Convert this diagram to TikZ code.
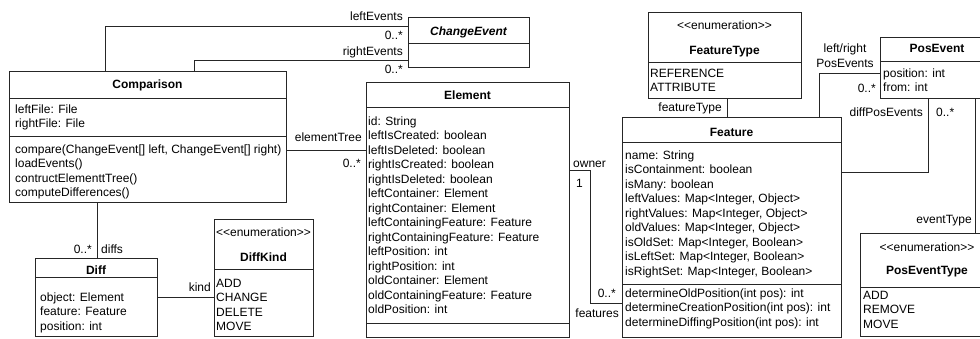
\documentclass[tikz,border=0pt]{standalone}
\usepackage{fontspec}
\setmainfont{Liberation Sans}
\usetikzlibrary{calc}
\newcommand\divline[2]{\draw[boxline] ([yshift=-#2]#1.north west) -- ([yshift=-#2]#1.north east);}
\newcommand\enumstereo{<\kern0pt<enumeration>\kern0pt>}
\begin{document}
\begin{tikzpicture}[x=1pt,y=-1pt,
  boxline/.style={line width=0.8pt,draw=black!85},
  box/.style={boxline,rectangle,inner sep=0pt,anchor=north west},
  txt/.style={anchor=base west,inner sep=0pt,font=\fontsize{12pt}{14.5pt}\selectfont},
  rtxt/.style={anchor=base east,inner sep=0pt,font=\fontsize{12pt}{14.5pt}\selectfont},
  ctxt/.style={anchor=base,inner sep=0pt,font=\fontsize{12pt}{14.5pt}\selectfont},
  ttl/.style={anchor=base,inner sep=0pt,font=\fontsize{12pt}{14.5pt}\selectfont\bfseries},
  conn/.style={line width=0.8pt,draw=black!85}]
\useasboundingbox (0,0) rectangle (980,338);
\clip (0,0) rectangle (980,338);

% ---------- Comparison
\node[box,minimum width=277pt,minimum height=131pt] (cmp) at (9,71) {};
\divline{cmp}{27pt}\divline{cmp}{65pt}
\node[ttl] (cmpt) at (147.5,88) {Comparison};
\foreach \t [count=\i from 0] in {leftFile: File, rightFile: File}
  \node[txt] (cmpa\i) at (15,113+14.5*\i) {\t};
\foreach \t [count=\i from 0] in {{compare(ChangeEvent[] left, ChangeEvent[] right)},loadEvents(),contructElementtTree(),computeDifferences()}
  \node[txt] (cmpm\i) at (15,153+14.6*\i) {\t};

% ---------- ChangeEvent
\node[box,minimum width=121pt,minimum height=50pt] (chg) at (408,17) {};
\divline{chg}{26pt}
\node[ttl,font=\fontsize{12pt}{14.5pt}\selectfont\bfseries\itshape] (chgt) at (468.5,35) {ChangeEvent};

% ---------- Element
\node[box,minimum width=203pt,minimum height=254.5pt] (elm) at (366,82) {};
\divline{elm}{25pt}\divline{elm}{241pt}
\node[ttl] (elmt) at (467.5,99) {Element};
\foreach \t [count=\i from 0] in {id: String,leftIsCreated: boolean,leftIsDeleted: boolean,rightIsCreated: boolean,rightIsDeleted: boolean,leftContainer: Element,rightContainer: Element,leftContainingFeature: Feature,rightContainingFeature: Feature,leftPosition: int,rightPosition: int,oldContainer: Element,oldContainingFeature: Feature,oldPosition: int}
  \node[txt] (elma\i) at (368,125+14.5*\i) {\t};

% ---------- Feature
\node[box,minimum width=219pt,minimum height=219.5pt] (fea) at (622,117) {};
\divline{fea}{25pt}\divline{fea}{167pt}
\node[ttl] (feat) at (731.5,136) {Feature};
\foreach \t [count=\i from 0] in {name: String,isContainment: boolean,isMany: boolean,{leftValues: Map<Integer, Object>},{rightValues: Map<Integer, Object>},{oldValues: Map<Integer, Object>},{isOldSet: Map<Integer, Boolean>},{isLeftSet: Map<Integer, Boolean>},{isRightSet: Map<Integer, Boolean>}}
  \node[txt] (feaa\i) at (625,159+14.5*\i) {\t};
\foreach \t [count=\i from 0] in {determineOldPosition(int pos): int,determineCreationPosition(int pos): int,determineDiffingPosition(int pos): int}
  \node[txt] (feam\i) at (625,297+14.5*\i) {\t};

% ---------- FeatureType
\node[box,minimum width=153pt,minimum height=86pt] (fty) at (648,12) {};
\divline{fty}{50pt}
\node[ctxt] (ftys) at (724.5,29) {\enumstereo};
\node[ttl] (ftyt) at (724.5,54) {FeatureType};
\foreach \t [count=\i from 0] in {REFERENCE,ATTRIBUTE}
  \node[txt] (ftya\i) at (650,77+14.5*\i) {\t};

% ---------- Diff
\node[box,minimum width=122pt,minimum height=78pt] (dif) at (35,258) {};
\divline{dif}{19pt}
\node[ttl] (dift) at (96,274) {Diff};
\foreach \t [count=\i from 0] in {object: Element,feature: Feature,position: int}
  \node[txt] (difa\i) at (40,301+14.5*\i) {\t};

% ---------- DiffKind
\node[box,minimum width=99pt,minimum height=117pt] (dk) at (214,219) {};
\divline{dk}{50pt}
\node[ctxt] (dks) at (263.5,236) {\enumstereo};
\node[ttl] (dkt) at (263.5,261) {DiffKind};
\foreach \t [count=\i from 0] in {ADD,CHANGE,DELETE,MOVE}
  \node[txt] (dka\i) at (216,287+14.5*\i) {\t};

% ---------- PosEvent
\node[box,minimum width=114pt,minimum height=61pt] (pe) at (880,37) {};
\divline{pe}{24pt}
\node[ttl] (pet) at (937,52) {PosEvent};
\foreach \t [count=\i from 0] in {position: int,from: int}
  \node[txt] (pea\i) at (883,77+14.5*\i) {\t};

% ---------- PosEventType
\node[box,minimum width=134pt,minimum height=103pt] (pty) at (860,233) {};
\divline{pty}{54pt}
\node[ctxt] (ptys) at (927,251) {\enumstereo};
\node[ttl] (ptyt) at (927,274) {PosEventType};
\foreach \t [count=\i from 0] in {ADD,REMOVE,MOVE}
  \node[txt] (ptya\i) at (863,299+14.5*\i) {\t};

% ---------- connectors
% leftEvents / rightEvents
\coordinate (le1) at ([xshift=96pt]cmp.north west);
\coordinate (le2) at ([yshift=-9pt]chg.north west);
\draw[conn] (le1) |- (le2);
\node[rtxt] (lelab) at (403,20) {leftEvents};
\node[rtxt] (lemul) at (403,39) {0..*};
\coordinate (re1) at ([xshift=185pt]cmp.north west);
\coordinate (re2) at ([yshift=-43pt]chg.north west);
\draw[conn] (re1) |- (re2);
\node[rtxt] (relab) at (403,55) {rightEvents};
\node[rtxt] (remul) at (403,73) {0..*};

% elementTree
\coordinate (et) at ([yshift=-79pt]cmp.north east);
\draw[conn] (et) -- (et -| elm.west);
\node[rtxt] (etlab) at (362,141) {elementTree};
\node[rtxt] (etmul) at (361,167) {0..*};

% diffs
\coordinate (df) at ([xshift=88pt]cmp.south west);
\draw[conn] (df) -- (df |- dif.north);
\node[rtxt] (dfmul) at (92,253) {0..*};
\node[txt] (dflab) at (101,253) {diffs};

% kind
\coordinate (kd) at ([yshift=-39pt]dif.north east);
\draw[conn] (kd) -- (kd -| dk.west);
\node[rtxt] (kdlab) at (211,291) {kind};

% owner / features
\coordinate (ow) at ([yshift=-88pt]elm.north east);
\coordinate (fe) at ([yshift=-186pt]fea.north west);
\draw[conn] (ow) -- ++(21,0) |- (fe);
\node[txt] (owlab) at (573,167) {owner};
\node[txt] (owmul) at (576,187) {1};
\node[rtxt] (femul) at (616,297) {0..*};
\node[rtxt] (felab) at (619,317) {features};

% featureType
\coordinate (ft) at ([xshift=79pt]fty.south west);
\draw[conn] (ft) -- (ft |- fea.north);
\node[rtxt] (ftlab) at (722,111) {featureType};

% left/right PosEvents
\coordinate (lr) at ([xshift=197pt]fea.north west);
\coordinate (pl) at ([yshift=-36pt]pe.north west);
\draw[conn] (lr) |- (pl);
\node[ctxt] (lrlab1) at (845,52) {left/right};
\node[ctxt] (lrlab2) at (845,67) {PosEvents};
\node[rtxt] (lrmul) at (876,92) {0..*};

% diffPosEvents
\coordinate (dp) at ([yshift=-55pt]fea.north east);
\coordinate (pd) at ([xshift=48pt]pe.south west);
\draw[conn] (dp) -| (pd);
\node[rtxt] (dplab) at (923,116) {diffPosEvents};
\node[txt] (dpmul) at (936,116) {0..*};

% eventType
\coordinate (ev) at ([xshift=95pt]pe.south west);
\draw[conn] (ev) -- (ev |- pty.north);
\node[rtxt] (evlab) at (972,223) {eventType};
\end{tikzpicture}
\end{document}
